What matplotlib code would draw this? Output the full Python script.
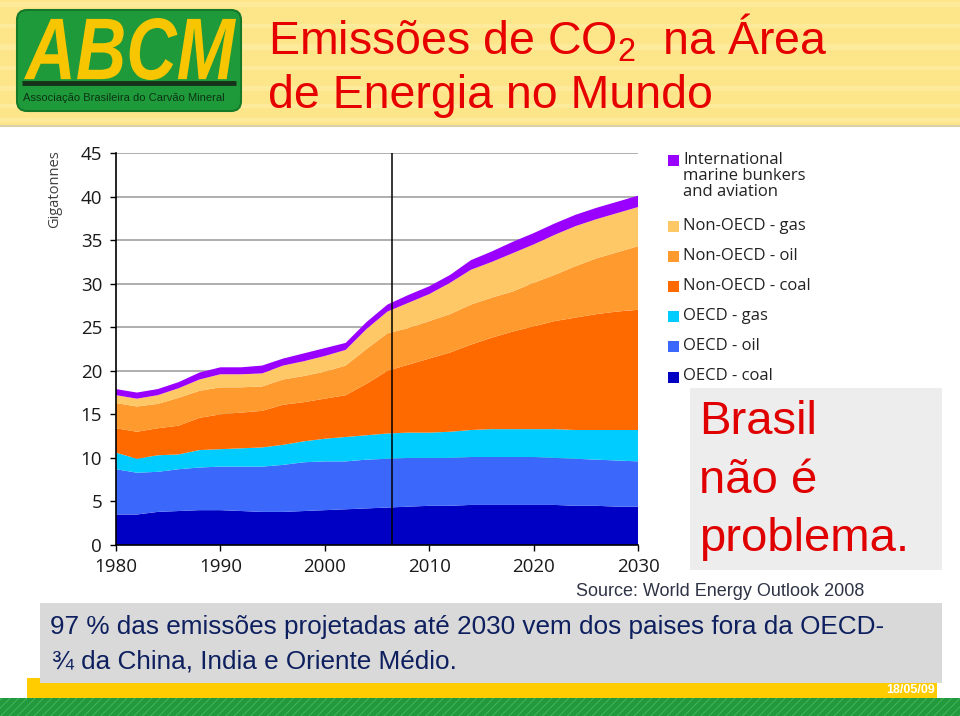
import numpy as np
import matplotlib.pyplot as plt
from matplotlib.patches import Rectangle, FancyBboxPatch, PathPatch
from matplotlib.textpath import TextPath
from matplotlib.font_manager import FontProperties
from matplotlib.transforms import Affine2D

plt.rcParams['font.family'] = ['Liberation Sans', 'DejaVu Sans']
plt.rcParams['hatch.linewidth'] = 0.6

# ---- data (Gt CO2) ----
years = list(range(1980, 2031, 2))
oecd_coal = [3.5, 3.5, 3.8, 3.9, 4.0, 4.0, 3.9, 3.8, 3.8, 3.9, 4.0, 4.1, 4.2,
             4.3, 4.4, 4.5, 4.5, 4.6, 4.6, 4.6, 4.6, 4.6, 4.5, 4.5, 4.4, 4.4]
oecd_oil = [5.2, 4.8, 4.6, 4.8, 4.9, 5.0, 5.1, 5.2, 5.4, 5.6, 5.6, 5.5, 5.6,
            5.6, 5.6, 5.5, 5.5, 5.5, 5.5, 5.5, 5.5, 5.4, 5.4, 5.3, 5.3, 5.2]
oecd_gas = [1.9, 1.6, 1.9, 1.7, 2.0, 2.0, 2.1, 2.2, 2.3, 2.4, 2.6, 2.8, 2.8,
            2.9, 2.9, 2.9, 3.0, 3.1, 3.2, 3.2, 3.2, 3.3, 3.3, 3.4, 3.5, 3.6]
non_oecd_coal = [2.8, 3.1, 3.1, 3.3, 3.7, 4.0, 4.1, 4.2, 4.6, 4.5, 4.6, 4.8, 5.9,
                 7.2, 7.8, 8.5, 9.1, 9.8, 10.5, 11.2, 11.8, 12.4, 12.9, 13.3, 13.6, 13.8]
non_oecd_oil = [2.9, 2.9, 2.8, 3.2, 3.1, 3.1, 2.9, 2.8, 2.9, 3.0, 3.1, 3.4, 4.0,
                4.3, 4.2, 4.3, 4.4, 4.6, 4.6, 4.6, 5.0, 5.3, 5.9, 6.4, 6.8, 7.3]
non_oecd_gas = [0.9, 0.9, 1.0, 1.1, 1.3, 1.5, 1.5, 1.5, 1.6, 1.7, 1.8, 1.8, 2.3,
                2.5, 2.9, 3.1, 3.6, 4.0, 4.1, 4.4, 4.4, 4.6, 4.6, 4.5, 4.5, 4.5]
bunkers = [0.7, 0.7, 0.7, 0.7, 0.8, 0.8, 0.8, 0.9, 0.8, 0.9, 0.9, 0.8, 0.8,
           0.8, 0.9, 0.9, 0.9, 1.1, 1.2, 1.3, 1.3, 1.3, 1.3, 1.3, 1.3, 1.3]
history_end = 2006.4

series = [oecd_coal, oecd_oil, oecd_gas, non_oecd_coal, non_oecd_oil, non_oecd_gas, bunkers]
labels = ['OECD - coal', 'OECD - oil', 'OECD - gas', 'Non-OECD - coal',
          'Non-OECD - oil', 'Non-OECD - gas', 'International\nmarine bunkers\nand aviation']
colors = ['#0000C4', '#3B68FA', '#00CCFF', '#FF6A00', '#FF9A2E', '#FFC866', '#9A00FF']

fig = plt.figure(figsize=(9.6, 7.16), dpi=100)

# background / slide decoration in pixel coords
bg = fig.add_axes([0, 0, 1, 1])
bg.set_xlim(0, 960)
bg.set_ylim(716, 0)
bg.axis('off')

bg.add_patch(Rectangle((0, 0), 960, 125, fc='#FDE68A', ec='none'))
for ys, h in [(2, 5), (24, 4), (44, 6), (66, 4), (86, 5), (104, 4), (118, 4)]:
    bg.add_patch(Rectangle((0, ys), 960, h, fc='#FFF3B8', ec='none', alpha=0.35))
bg.plot([0, 960], [125.5, 125.5], color='#D9CFA8', lw=1.5)

# logo
bg.add_patch(FancyBboxPatch((17, 10), 224, 101, boxstyle='round,pad=0,rounding_size=10',
                            fc='#1F9A3A', ec='#147A2A', lw=1.5))
tp = TextPath((0, 0), 'ABCM', size=80,
              prop=FontProperties(family='Liberation Sans', weight='bold', style='italic'))
ext = tp.get_extents()
sx = 212 / ext.width
sy = 62 / ext.height
tr = Affine2D().translate(-ext.x0, -ext.y0).scale(sx, -sy).translate(24, 80)
bg.add_patch(PathPatch(tr.transform_path(tp), fc='#F7C600', ec='none'))
bg.plot([22, 236], [83, 83], color='#16321A', lw=3.5, solid_capstyle='butt')
bg.text(23, 98, 'Associação Brasileira do Carvão Mineral', fontsize=8,
        color='#0C3314', va='center', ha='left')

fig.text(268 / 960, 1 - 55 / 716, 'Emissões de CO$_\\mathregular{2}$  na Área',
         fontsize=33.5, color='#E60000', va='baseline')
fig.text(268 / 960, 1 - 108 / 716, 'de Energia no Mundo',
         fontsize=33.5, color='#E60000', va='baseline')

# Brasil box
bg.add_patch(Rectangle((690, 388), 252, 182, fc='#EDEDED', ec='none'))
bg.text(699, 422, 'Brasil', fontsize=34, color='#E00000', va='center')
bg.text(699, 481, 'não é', fontsize=34, color='#E00000', va='center')
bg.text(699, 539, 'problema.', fontsize=34, color='#E00000', va='center')

bg.text(576, 591, 'Source: World Energy Outlook 2008', fontsize=13,
        color='#2E3445', va='center')

# bottom bars
bg.add_patch(Rectangle((0, 698), 960, 18, fc='#23993D', ec='#49B85C', hatch='////', lw=0))
bg.add_patch(Rectangle((27, 678), 910, 20, fc='#FFCC00', ec='none'))
bg.add_patch(Rectangle((40, 603), 902, 80, fc='#D9D9D9', ec='none'))
bg.text(50, 627, '97 % das emissões projetadas até 2030 vem dos paises fora da OECD-',
        fontsize=18.8, color='#0D1F5E', va='center')
bg.text(52, 661, '¾ da China, India e Oriente Médio.',
        fontsize=18.8, color='#0D1F5E', va='center')
bg.text(935, 690, '18/05/09', fontsize=9, color='white', fontweight='bold',
        ha='right', va='center')

# legend drawn by hand, top entry first
leg_y = [160, 226, 256, 286, 316, 346, 377]
for i, (lab, col) in enumerate(zip(labels[::-1], colors[::-1])):
    y = leg_y[i]
    bg.add_patch(Rectangle((668, y - 5.5), 11, 11, fc=col, ec='none'))
    bg.text(683, y - 8.5, lab, fontsize=12, color='#222222', va='top', ha='left',
            family=['Open Sans', 'DejaVu Sans'], linespacing=1.0)

# the chart
ax = fig.add_axes([116 / 960, 171 / 716, 522 / 960, 392 / 716])
ax.stackplot(years, *series, colors=colors, linewidth=0)
ax.axvline(history_end, color='black', lw=1.1)
ax.set_xlim(1980, 2030)
ax.set_ylim(0, 45)
ax.set_yticks(np.arange(0, 46, 5))
ax.set_xticks(np.arange(1980, 2031, 10))
ax.set_axisbelow(True)
ax.yaxis.grid(True, color='#A8A8A8', lw=1.3)
ax.set_facecolor('none')
for s in ['top', 'right']:
    ax.spines[s].set_visible(False)
for s in ['left', 'bottom']:
    ax.spines[s].set_color('black')
    ax.spines[s].set_linewidth(1.2)
ax.tick_params(direction='out', length=4, width=1, colors='black',
               labelsize=13.5, labelcolor='#1A1A1A')
ax.tick_params(axis='y', pad=6)
ax.tick_params(axis='x', pad=5)
for lbl in ax.get_xticklabels() + ax.get_yticklabels():
    lbl.set_family(['Open Sans', 'DejaVu Sans'])

fig.text(55 / 960, 1 - 189 / 716, 'Gigatonnes', rotation=90, ha='center', va='center',
         fontsize=10.5, color='#404040', family=['Open Sans', 'DejaVu Sans'])

fig.savefig('out.png', dpi=100)
